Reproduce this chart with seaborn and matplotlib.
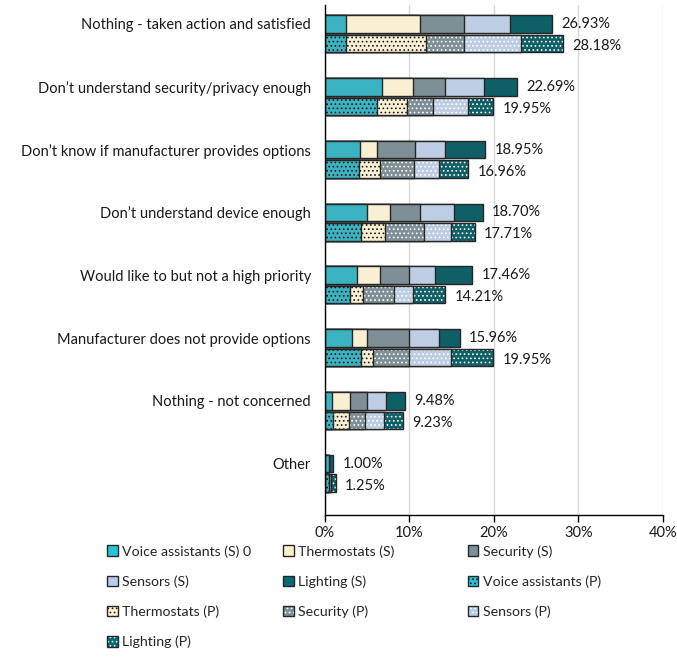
import numpy as np
import pandas as pd
import matplotlib
matplotlib.use("Agg")
import matplotlib.pyplot as plt
from matplotlib.patches import Patch
from matplotlib.colors import to_rgba
import seaborn as sns

categories = [
    "Nothing - taken action and satisfied",
    "Don\u2019t understand security/privacy enough",
    "Don\u2019t know if manufacturer provides options",
    "Don\u2019t understand device enough",
    "Would like to but not a high priority",
    "Manufacturer does not provide options",
    "Nothing - not concerned",
    "Other",
]
devices = ["Voice assistants", "Thermostats", "Security", "Sensors", "Lighting"]
sources = ["S", "P"]

# percentage per device, one list per source (rows follow `categories`)
voice_s = [2.50, 6.70, 4.20, 5.00, 3.75, 3.25, 0.85, 0.50]
thermo_s = [8.75, 3.70, 2.00, 2.70, 2.75, 1.75, 2.15, 0.00]
security_s = [5.24, 3.79, 4.50, 3.55, 3.45, 4.95, 2.00, 0.00]
sensors_s = [5.44, 4.70, 3.50, 4.00, 3.05, 3.50, 2.25, 0.00]
lighting_s = [5.00, 3.80, 4.75, 3.45, 4.46, 2.51, 2.23, 0.50]

voice_p = [2.50, 6.20, 4.00, 4.25, 3.00, 4.25, 1.00, 0.50]
thermo_p = [9.50, 3.55, 2.50, 2.80, 1.50, 1.45, 1.85, 0.00]
security_p = [4.48, 3.07, 4.00, 4.70, 3.70, 4.25, 1.95, 0.25]
sensors_p = [6.70, 4.07, 3.00, 3.20, 2.20, 4.95, 2.20, 0.00]
lighting_p = [5.00, 3.06, 3.46, 2.76, 3.81, 5.05, 2.23, 0.50]

totals_s = [26.93, 22.69, 18.95, 18.70, 17.46, 15.96, 9.48, 1.00]
totals_p = [28.18, 19.95, 16.96, 17.71, 14.21, 19.95, 9.23, 1.25]

legend_labels = [
    "Voice assistants (S) 0", "Thermostats (S)", "Security (S)",
    "Sensors (S)", "Lighting (S)", "Voice assistants (P)",
    "Thermostats (P)", "Security (P)", "Sensors (P)", "Lighting (P)",
]

colors = ["#25C4D8", "#FFF2CC", "#7A9199", "#B7CCEA", "#006B74"]
dot_colors = ["#1a1a1a", "#1a1a1a", "#ffffff", "#ffffff", "#ffffff"]
edge = "#262626"
HATCH = "...."

sns.set_theme(style="white")
plt.rcParams["font.family"] = ["Lato", "DejaVu Sans"]
plt.rcParams["hatch.linewidth"] = 0.7
FS = 10.5

seg_s = np.array([voice_s, thermo_s, security_s, sensors_s, lighting_s])
seg_p = np.array([voice_p, thermo_p, security_p, sensors_p, lighting_p])
cum_s = np.cumsum(seg_s, axis=0)
cum_p = np.cumsum(seg_p, axis=0)

fig = plt.figure(figsize=(6.77, 6.60), dpi=100)
ax = fig.add_axes([0.480, 0.220, 0.499, 0.772])

# stacked bars: draw cumulative totals from the outermost segment inwards
for k in reversed(range(len(devices))):
    df = pd.DataFrame({
        "category": categories * 2,
        "source": ["S"] * len(categories) + ["P"] * len(categories),
        "value": np.concatenate([cum_s[k], cum_p[k]]),
    })
    n_before = len(ax.patches)
    sns.barplot(data=df, y="category", x="value", hue="source",
                order=categories, hue_order=sources,
                palette={"S": colors[k], "P": colors[k]},
                orient="h", width=0.62, gap=0.1, errorbar=None,
                edgecolor=edge, linewidth=1.0, legend=False, ax=ax)
    for p in ax.patches[n_before:]:
        yc = p.get_y() + p.get_height() / 2
        if yc > round(yc):
            p.set_hatch(HATCH)
            p._hatch_color = to_rgba(dot_colors[k])

# value labels at the end of each bar
off = 0.155
for i in range(len(categories)):
    ax.text(totals_s[i] + 1.1, i - off, f"{totals_s[i]:.2f}%",
            va="center", ha="left", fontsize=FS, color="#1a1a1a")
    ax.text(totals_p[i] + 1.1, i + off + 0.04, f"{totals_p[i]:.2f}%",
            va="center", ha="left", fontsize=FS, color="#1a1a1a")

ax.set_xlim(0, 40)
ax.set_ylim(7.66, -0.453)
ax.set_xticks([0, 10, 20, 30, 40])
ax.set_xticklabels([f"{t}%" for t in [0, 10, 20, 30, 40]], fontsize=FS, color="#1a1a1a")
ax.set_yticks(np.arange(len(categories)) - off)
ax.set_yticklabels(categories, fontsize=FS, color="#1a1a1a")
ax.set_xlabel("")
ax.set_ylabel("")
ax.grid(axis="x", color="#d9d9d9", linewidth=1.0)
ax.set_axisbelow(True)
for s in ["top", "right"]:
    ax.spines[s].set_visible(False)
for s in ["left", "bottom"]:
    ax.spines[s].set_color("#000000")
    ax.spines[s].set_linewidth(1.0)
ax.tick_params(axis="x", bottom=True, length=5, width=1.0, color="#000000", pad=3)
ax.tick_params(axis="y", left=False, pad=4)

# legend in three columns, filled row by row
handles = []
for j, src in enumerate(sources):
    for k in range(len(devices)):
        h = Patch(facecolor=colors[k], edgecolor=edge, linewidth=1.0)
        if src == "P":
            h.set_hatch(HATCH)
            h._hatch_color = to_rgba(dot_colors[k])
        handles.append(h)

col_x = [0.158, 0.418, 0.691]
for c in range(3):
    idx = list(range(c, len(handles), 3))
    fig.legend([handles[i] for i in idx], [legend_labels[i] for i in idx],
               loc="upper left", bbox_to_anchor=(col_x[c], 1 - 545 / 660),
               frameon=False, fontsize=10.2, handlelength=0.75,
               handleheight=0.75, handletextpad=0.3, labelspacing=1.25,
               borderaxespad=0, borderpad=0)

fig.savefig("out.png", dpi=100)
